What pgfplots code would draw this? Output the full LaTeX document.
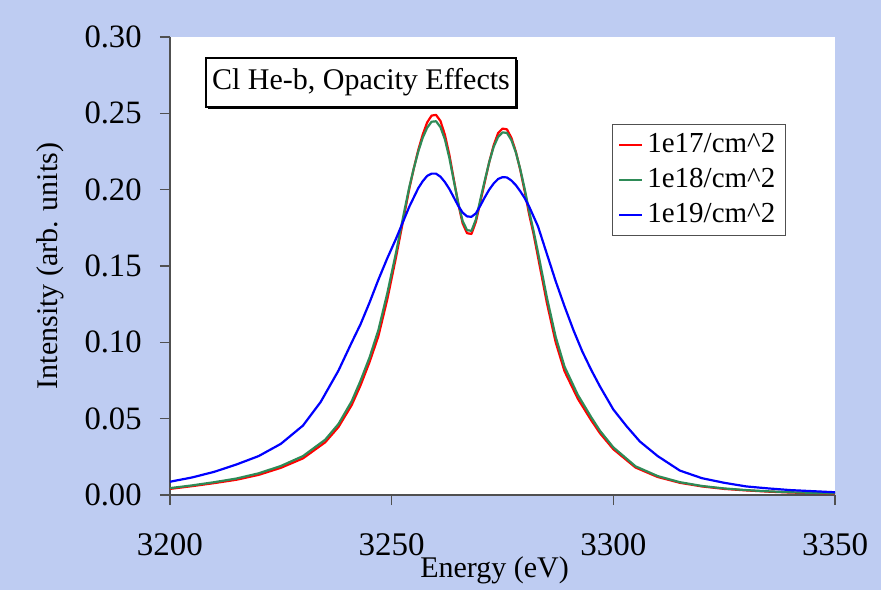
\documentclass[border=0pt]{standalone}
\usepackage{pgfplots}
\pgfplotsset{compat=1.18}
\usepackage{fontspec}
\setmainfont{Liberation Serif}
\usetikzlibrary{shadows}
\definecolor{bgblue}{RGB}{190,204,242}
\definecolor{seagr}{RGB}{46,139,87}
\definecolor{axgray}{RGB}{80,80,80}

\pgfplotstableread{
x y
3200 0.0040
3205 0.0058
3210 0.0078
3215 0.0100
3220 0.0132
3225 0.0178
3230 0.0240
3235 0.0345
3238 0.0445
3241 0.0590
3243 0.0720
3245 0.0870
3247 0.1040
3249 0.1280
3251 0.1560
3253 0.1860
3254 0.2010
3255 0.2140
3256 0.2260
3257 0.2360
3258 0.2440
3259 0.2485
3260 0.2490
3261 0.2450
3262 0.2360
3263 0.2230
3264 0.2070
3265 0.1910
3266 0.1780
3267 0.1715
3268 0.1710
3269 0.1790
3270 0.1920
3271 0.2050
3272 0.2180
3273 0.2290
3274 0.2370
3275 0.2400
3276 0.2395
3277 0.2340
3278 0.2250
3279 0.2130
3280 0.1990
3281 0.1840
3282 0.1710
3283 0.1560
3285 0.1260
3287 0.1000
3289 0.0810
3292 0.0630
3295 0.0490
3297 0.0404
3300 0.0300
3305 0.0180
3310 0.0118
3315 0.0080
3320 0.0056
3325 0.0040
3330 0.0030
3335 0.0022
3340 0.0016
3345 0.0013
3350 0.0010
}\redtab

\pgfplotstableread{
x y
3200 0.0045
3205 0.0063
3210 0.0084
3215 0.0108
3220 0.0142
3225 0.0190
3230 0.0255
3235 0.0362
3238 0.0465
3241 0.0615
3243 0.0750
3245 0.0900
3247 0.1080
3249 0.1320
3251 0.1590
3253 0.1880
3254 0.2020
3255 0.2140
3256 0.2250
3257 0.2340
3258 0.2405
3259 0.2445
3260 0.2448
3261 0.2410
3262 0.2330
3263 0.2210
3264 0.2060
3265 0.1915
3266 0.1795
3267 0.1735
3268 0.1730
3269 0.1805
3270 0.1935
3271 0.2060
3272 0.2180
3273 0.2280
3274 0.2345
3275 0.2375
3276 0.2372
3277 0.2325
3278 0.2245
3279 0.2135
3280 0.2005
3281 0.1860
3282 0.1730
3283 0.1590
3285 0.1295
3287 0.1035
3289 0.0840
3292 0.0655
3295 0.0510
3297 0.0420
3300 0.0312
3305 0.0188
3310 0.0124
3315 0.0084
3320 0.0059
3325 0.0043
3330 0.0032
3335 0.0024
3340 0.0018
3345 0.0014
3350 0.0011
}\greentab

\pgfplotstableread{
x y
3200 0.0087
3205 0.0115
3210 0.0152
3215 0.0200
3220 0.0255
3225 0.0335
3230 0.0455
3234 0.0610
3238 0.0815
3241 0.1000
3243 0.1120
3245 0.1260
3247 0.1410
3249 0.1550
3251 0.1680
3253 0.1820
3254 0.1890
3255 0.1950
3256 0.2010
3257 0.2055
3258 0.2090
3259 0.2105
3260 0.2105
3261 0.2085
3262 0.2050
3263 0.2005
3264 0.1950
3265 0.1895
3266 0.1850
3267 0.1825
3268 0.1822
3269 0.1845
3270 0.1895
3271 0.1950
3272 0.2000
3273 0.2040
3274 0.2070
3275 0.2082
3276 0.2080
3277 0.2060
3278 0.2030
3279 0.1990
3280 0.1945
3281 0.1890
3283 0.1760
3285 0.1580
3287 0.1400
3289 0.1235
3291 0.1080
3293 0.0940
3295 0.0820
3297 0.0710
3300 0.0560
3303 0.0450
3306 0.0350
3310 0.0255
3315 0.0160
3320 0.0110
3325 0.0080
3330 0.0056
3335 0.0043
3340 0.0032
3345 0.0025
3350 0.0018
}\bluetab

\begin{document}
\fontsize{15}{18}\selectfont
\begin{tikzpicture}
\fill[bgblue] (-85pt,-47.5pt) rectangle (355.5pt,247.5pt);
\begin{axis}[
  scale only axis,
  width=332.5pt, height=229pt,
  at={(0,0)}, anchor=south west,
  xmin=3200, xmax=3350, ymin=0, ymax=0.30,
  axis background/.style={fill=white},
  axis x line*=bottom, axis y line*=left,
  axis line style={axgray, line width=0.8pt},
  every tick/.style={axgray, line width=0.8pt},
  tick align=outside, major tick length=5pt,
  xtick={3200,3250,3300,3350},
  ytick={0,0.05,0.10,0.15,0.20,0.25,0.30},
  /pgf/number format/assume math mode=true,
  xticklabel style={/pgf/number format/1000 sep={}, anchor=center, yshift=-20pt, font=\fontsize{16.5}{19}\selectfont},
  yticklabel style={/pgf/number format/fixed, /pgf/number format/fixed zerofill, /pgf/number format/precision=2, anchor=east, xshift=-4pt, font=\fontsize{16.3}{19}\selectfont},
  every axis x label/.style={at={([yshift=-37.5pt]rel axis cs:0.488,0)}, anchor=center, font=\fontsize{15}{18}\selectfont},
  every axis y label/.style={at={([xshift=-60pt]rel axis cs:0,0.5)}, anchor=center, rotate=90, font=\fontsize{15}{18}\selectfont},
  xlabel={Energy (eV)},
  ylabel={Intensity (arb. units)},
  legend style={at={(0.926,0.810)}, anchor=north east, draw=axgray, line width=0.5pt, fill=white, font=\fontsize{14.5}{17}\selectfont, row sep=1.5pt, inner xsep=3pt, inner ysep=2.5pt},
  legend cell align=left,
  legend image code/.code={\draw[#1] (0cm,0cm) -- (0.4cm,0cm);},
  clip=false,
]
\addplot[red, line width=1.1pt, line join=round] table[x=x,y=y] {\redtab};
\addplot[seagr, line width=1.1pt, line join=round] table[x=x,y=y] {\greentab};
\addplot[blue, line width=1.1pt, line join=round] table[x=x,y=y] {\bluetab};
\legend{1e17/cm\textasciicircum 2, 1e18/cm\textasciicircum 2, 1e19/cm\textasciicircum 2}
\node[draw=black, line width=0.6pt, fill=white, minimum width=155pt, minimum height=24.5pt, inner sep=0pt,
  drop shadow={shadow xshift=1pt, shadow yshift=-1pt, opacity=1, fill=black}]
  at (rel axis cs:0.2872,0.9007) {Cl He-b, Opacity Effects};
\end{axis}
\end{tikzpicture}
\end{document}
